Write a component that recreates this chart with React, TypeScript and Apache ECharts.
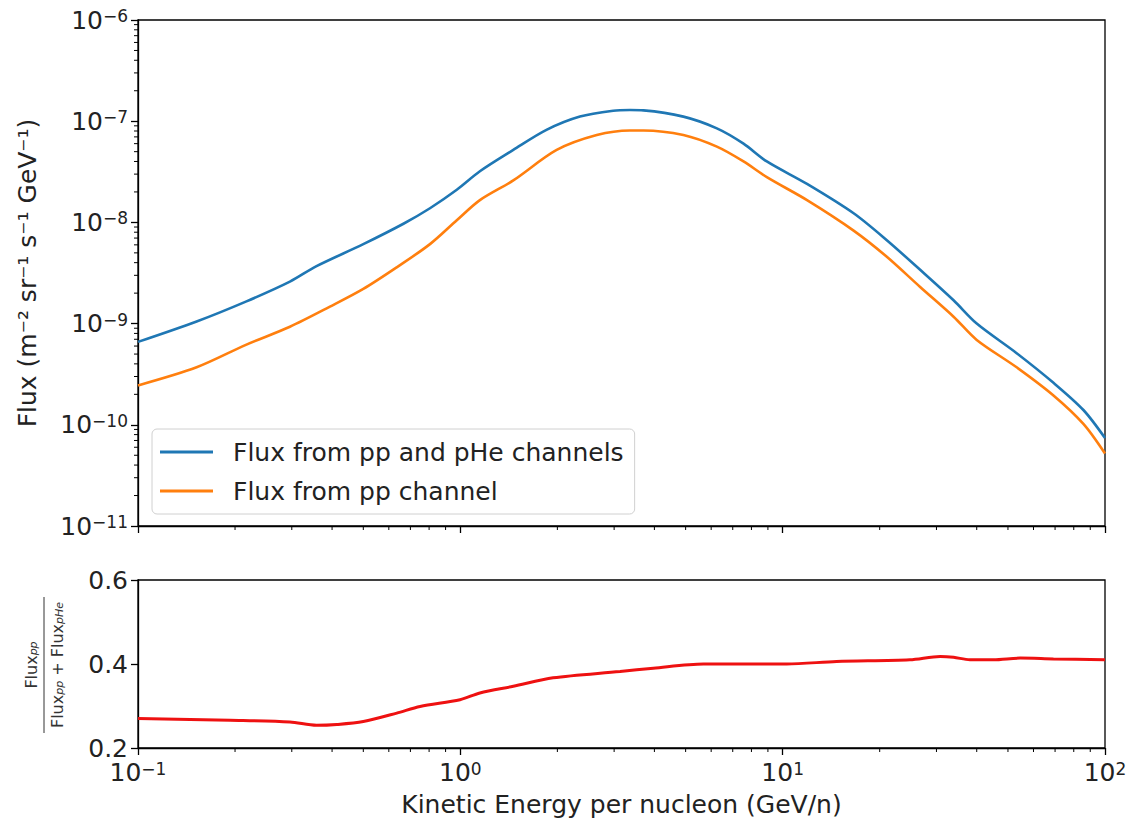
import React, { useEffect, useRef } from 'react';
import * as echarts from 'echarts';

// Kinetic energy per nucleon (GeV/n) and flux for the combined pp + pHe channels
const energyTotal = [0.1, 0.152, 0.217, 0.296, 0.358, 0.5, 0.666, 0.805, 0.975, 1.15, 1.46, 1.85, 2.35, 2.98, 3.36, 3.7, 4.92, 6.25, 7.56, 8.93, 11.9, 16.6, 21.0, 26.7, 33.9, 40.0, 53.2, 69.2, 85.7, 100];
const fluxTotal = [6.6e-10, 1.05e-9, 1.66e-9, 2.6e-9, 3.7e-9, 6.1e-9, 9.7e-9, 1.38e-8, 2.1e-8, 3.2e-8, 5.2e-8, 8.2e-8, 1.11e-7, 1.27e-7, 1.29e-7, 1.28e-7, 1.11e-7, 8.5e-8, 6.0e-8, 4.0e-8, 2.4e-8, 1.23e-8, 6.7e-9, 3.4e-9, 1.7e-9, 1.0e-9, 5.1e-10, 2.6e-10, 1.4e-10, 7.4e-11];

// Flux from the pp channel alone
const energyPP = [0.1, 0.152, 0.217, 0.296, 0.394, 0.5, 0.635, 0.805, 0.975, 1.15, 1.46, 1.99, 2.65, 3.36, 3.7, 4.92, 6.25, 7.56, 8.93, 11.9, 16.6, 21.0, 26.7, 33.9, 40.0, 53.2, 69.2, 85.7, 100];
const fluxPP = [2.45e-10, 3.7e-10, 6.2e-10, 9.3e-10, 1.47e-9, 2.2e-9, 3.6e-9, 6.1e-9, 1.05e-8, 1.66e-8, 2.6e-8, 5.2e-8, 7.3e-8, 8.1e-8, 8.1e-8, 7.3e-8, 5.6e-8, 4.0e-8, 2.8e-8, 1.66e-8, 8.3e-9, 4.6e-9, 2.3e-9, 1.17e-9, 6.9e-10, 3.7e-10, 1.95e-10, 1.02e-10, 5.2e-11];

// Ratio Flux_pp / (Flux_pp + Flux_pHe)
const energyRatio = [0.1, 0.193, 0.296, 0.358, 0.414, 0.5, 0.635, 0.75, 0.998, 1.15, 1.46, 1.94, 3.13, 3.97, 5.68, 10.3, 14.7, 24.8, 30.8, 33.9, 38.1, 45.1, 54.6, 69.2, 100];
const ratio = [0.27, 0.266, 0.262, 0.254, 0.256, 0.263, 0.283, 0.299, 0.315, 0.331, 0.347, 0.367, 0.382, 0.39, 0.4, 0.4, 0.406, 0.41, 0.418, 0.416, 0.41, 0.41, 0.414, 0.412, 0.41];

const seriesNames = ['Flux from pp and pHe channels', 'Flux from pp channel'];
const ratioTicks = [0.2, 0.4, 0.6];

const FONT = 'DejaVu Sans';
const INK = '#222';
const FS = 25;
const MINOR_LEN = 4;

// 2..9 x 10^k between two decades, for the minor ticks of a log axis
function minorDecadeTicks(loExp: number, hiExp: number): number[] {
  const out: number[] = [];
  for (let k = loExp; k < hiExp; k++) {
    for (let m = 2; m <= 9; m++) out.push(Number((m * Math.pow(10, k)).toPrecision(3)));
  }
  return out;
}

function powerLabel(v: number): string {
  const e = Math.round(Math.log10(v));
  return `{b|10}{s|${e < 0 ? '\u2212' : ''}${Math.abs(e)}}`;
}

const powerRich = {
  b: { fontSize: FS, fontFamily: FONT, color: INK, lineHeight: 25 },
  s: { fontSize: 17, fontFamily: FONT, color: INK, lineHeight: 15, verticalAlign: 'top' as const },
};

const majorTick = { show: true, length: 7, lineStyle: { color: '#000', width: 1.3 } };
const spine = { show: true, onZero: false, lineStyle: { color: '#000', width: 1.3 } };

// Short outward tick marks at minor values, placed through the axes' own scales.
function minorTickSeries(points: number[][], dir: 'down' | 'left', xAxisIndex: number, yAxisIndex: number) {
  return {
    type: 'custom', xAxisIndex, yAxisIndex, silent: true, clip: false, z: 5,
    encode: { x: 0, y: 1 },
    data: points,
    renderItem: (_params: any, api: any) => {
      const p = api.coord([api.value(0), api.value(1)]);
      const shape = dir === 'down'
        ? { x1: p[0], y1: p[1], x2: p[0], y2: p[1] + MINOR_LEN }
        : { x1: p[0] - MINOR_LEN, y1: p[1], x2: p[0], y2: p[1] };
      return { type: 'line', shape, style: { stroke: '#000', lineWidth: 1 } };
    },
  };
}

export default function App() {
  const ref = useRef<HTMLDivElement>(null);

  useEffect(() => {
    if (!ref.current) return;
    const chart = echarts.init(ref.current, undefined, { renderer: 'svg' });

    const minorX = minorDecadeTicks(-1, 2);
    const minorY = minorDecadeTicks(-11, -6);

    const frame = { show: true, borderColor: '#000', borderWidth: 1.3, backgroundColor: 'transparent', outerBoundsMode: 'none' };
    const gridTop = { left: 138, right: 24, top: 20, height: 506, ...frame };
    const gridBottom = { left: 138, right: 24, top: 580, height: 168, ...frame };

    const logX = (gridIndex: number) => ({
      type: 'log' as const, logBase: 10, min: 0.1, max: 100, gridIndex, position: 'bottom' as const,
      splitLine: { show: false }, minorTick: { show: false }, minorSplitLine: { show: false },
    });

    const option: any = {
      animation: false,
      backgroundColor: '#fff',
      grid: [gridTop, gridBottom],
      xAxis: [
        { ...logX(0), axisLine: spine, axisTick: majorTick, axisLabel: { show: false } },
        {
          ...logX(1), axisLine: spine, axisTick: majorTick,
          axisLabel: { show: true, margin: 12, formatter: powerLabel, rich: powerRich },
          name: 'Kinetic Energy per nucleon (GeV/n)', nameLocation: 'middle', nameGap: 44,
          nameTextStyle: { fontSize: FS, fontFamily: FONT, color: INK },
        },
      ],
      yAxis: [
        {
          type: 'log', logBase: 10, min: 1e-11, max: 1e-6, gridIndex: 0, position: 'left',
          splitLine: { show: false }, minorTick: { show: false }, minorSplitLine: { show: false },
          axisLine: spine, axisTick: majorTick,
          axisLabel: { show: true, margin: 10, formatter: powerLabel, rich: powerRich },
          name: 'Flux (m\u207B\u00B2 sr\u207B\u00B9 s\u207B\u00B9 GeV\u207B\u00B9)', nameLocation: 'middle', nameGap: 98, nameRotate: 90,
          nameTextStyle: { fontSize: FS, fontFamily: FONT, color: INK },
        },
        {
          type: 'value', gridIndex: 1, min: 0.2, max: 0.6, interval: 0.2, position: 'left',
          splitLine: { show: false }, axisLine: spine, axisTick: majorTick,
          axisLabel: { show: true, margin: 10, fontSize: FS, fontFamily: FONT, color: INK, customValues: ratioTicks, formatter: (v: number) => v.toFixed(1) },
        },
      ],
      legend: {
        orient: 'vertical', left: 152, top: 429,
        data: seriesNames,
        icon: 'rect',
        padding: [8, 11, 8, 8],
        itemGap: 9, itemWidth: 53, itemHeight: 3,
        backgroundColor: 'rgba(255,255,255,0.85)', borderColor: '#d0d0d0', borderWidth: 1, borderRadius: 5,
        textStyle: { fontSize: FS, fontFamily: FONT, color: INK, lineHeight: 30, padding: [0, 0, 0, 15] },
      },
      graphic: [
        {
          type: 'group', x: 44, y: 665, rotation: Math.PI / 2,
          children: [
            { type: 'line', shape: { x1: -68, y1: 0, x2: 68, y2: 0 }, style: { stroke: '#333', lineWidth: 1 } },
            {
              type: 'text', x: 0, y: -5,
              style: {
                text: '{n|Flux}{p|pp}', align: 'center', verticalAlign: 'bottom',
                rich: { n: { fontSize: 16, fontFamily: FONT, fill: '#333' }, p: { fontSize: 11, fontFamily: FONT, fontStyle: 'italic', fill: '#333', verticalAlign: 'bottom' } },
              },
            },
            {
              type: 'text', x: 0, y: 5,
              style: {
                text: '{n|Flux}{p|pp}{n| + Flux}{p|pHe}', align: 'center', verticalAlign: 'top',
                rich: { n: { fontSize: 16, fontFamily: FONT, fill: '#333' }, p: { fontSize: 11, fontFamily: FONT, fontStyle: 'italic', fill: '#333', verticalAlign: 'bottom' } },
              },
            },
          ],
        },
      ],
      series: [
        {
          name: seriesNames[0], type: 'line', xAxisIndex: 0, yAxisIndex: 0,
          data: energyTotal.map((e, i) => [e, fluxTotal[i]]),
          symbol: 'none', smooth: 0.3, lineStyle: { color: '#1f77b4', width: 2.6 }, itemStyle: { color: '#1f77b4' },
        },
        {
          name: seriesNames[1], type: 'line', xAxisIndex: 0, yAxisIndex: 0,
          data: energyPP.map((e, i) => [e, fluxPP[i]]),
          symbol: 'none', smooth: 0.3, lineStyle: { color: '#ff7f0e', width: 2.6 }, itemStyle: { color: '#ff7f0e' },
        },
        {
          name: 'ratio', type: 'line', xAxisIndex: 1, yAxisIndex: 1,
          data: energyRatio.map((e, i) => [e, ratio[i]]),
          symbol: 'none', smooth: 0.3, lineStyle: { color: '#ee1111', width: 3 }, itemStyle: { color: '#ee1111' },
        },
        minorTickSeries(minorY.map((v) => [0.1, v]), 'left', 0, 0),
        minorTickSeries(minorX.map((v) => [v, 1e-11]), 'down', 0, 0),
        minorTickSeries(minorX.map((v) => [v, 0.2]), 'down', 1, 1),
      ],
    };

    chart.setOption(option);
    return () => chart.dispose();
  }, []);

  return <div ref={ref} style={{ position: 'fixed', left: 0, top: 0, width: 1129, height: 830 }} />;
}
